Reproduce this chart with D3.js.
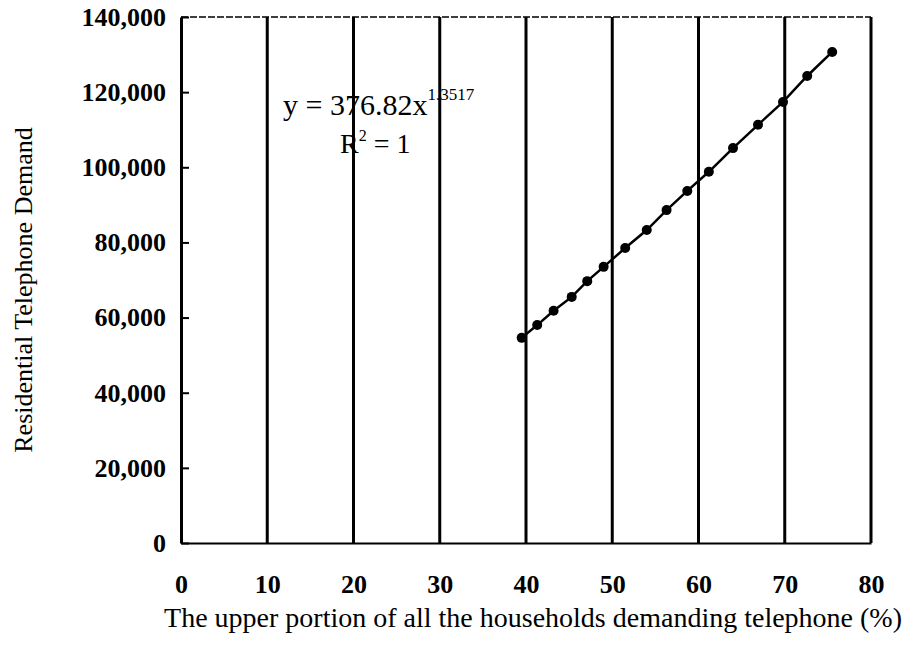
<!DOCTYPE html>
<head>
<meta charset="utf-8">
<style>
body { margin: 0; background: #fff; }
svg { display: block; }
text { font-family: "Liberation Serif", "Times New Roman", serif; fill: #000; }
.tick text { font-size: 26px; font-weight: bold; }
.grid { stroke: #000; stroke-width: 3px; }
</style>
</head>
<body>
<script src="https://cdnjs.cloudflare.com/ajax/libs/d3/7.8.5/d3.min.js"></script>
<script>
  // data
  var share  = [39.5, 41.3, 43.2, 45.3, 47.1, 49.0, 51.5, 54.0, 56.3, 58.7, 61.2, 64.0, 66.9, 69.8, 72.6, 75.5];
  var demand = [54600, 58000, 61800, 65500, 69700, 73500, 78500, 83300, 88600, 93700, 98800, 105100, 111300, 117400, 124300, 130700];
  var xTicks = [0, 10, 20, 30, 40, 50, 60, 70, 80];
  var yTicks = [0, 20000, 40000, 60000, 80000, 100000, 120000, 140000];

  var margin = { top: 17, right: 33, bottom: 111, left: 181 },
      W = 904, H = 654,
      width  = W - margin.left - margin.right,
      height = H - margin.top - margin.bottom;

  var svg = d3.select("body").append("svg")
      .attr("width", W)
      .attr("height", H);

  var g = svg.append("g")
      .attr("transform", "translate(" + margin.left + "," + margin.top + ")");

  var x = d3.scaleLinear().domain([0, 80]).range([0, width]);
  var y = d3.scaleLinear().domain([0, 140000]).range([height, 0]);

  // top border (thin, broken looking in the scan)
  g.append("line")
      .attr("x1", 0).attr("x2", width)
      .attr("y1", 0).attr("y2", 0)
      .style("stroke", "#000")
      .style("stroke-width", 1.5)
      .style("stroke-dasharray", "7,2");

  // vertical grid lines at every x tick
  g.selectAll("line.grid")
    .data(xTicks.slice(1))
    .enter().append("line")
      .classed("grid", true)
      .attr("x1", function(d) { return x(d); })
      .attr("x2", function(d) { return x(d); })
      .attr("y1", 0)
      .attr("y2", height);

  // x axis
  var xAxis = d3.axisBottom(x)
      .tickValues(xTicks)
      .tickSize(0)
      .tickPadding(32);

  var gx = g.append("g")
      .attr("transform", "translate(0," + height + ")")
      .call(xAxis);
  gx.select(".domain").style("stroke", "#000").style("stroke-width", 2);

  // y axis, ticks point inward
  var yAxis = d3.axisLeft(y)
      .tickValues(yTicks)
      .tickSizeInner(-8)
      .tickSizeOuter(0)
      .tickPadding(15)
      .tickFormat(d3.format(","));

  var gy = g.append("g").call(yAxis);
  gy.select(".domain").style("stroke", "#000").style("stroke-width", 3);
  gy.selectAll(".tick line").style("stroke", "#000").style("stroke-width", 2);

  // axis titles
  svg.append("text")
      .attr("x", 902)
      .attr("y", 627)
      .style("text-anchor", "end")
      .style("font-size", "28px")
      .text("The upper portion of all the households demanding telephone (%)");

  svg.append("text")
      .attr("transform", "translate(32,290) rotate(-90)")
      .style("text-anchor", "middle")
      .style("font-size", "26px")
      .text("Residential Telephone Demand");

  // series
  var pts = d3.zip(share, demand);

  var line = d3.line()
      .x(function(d) { return x(d[0]); })
      .y(function(d) { return y(d[1]); });

  g.append("path")
      .attr("d", line(pts))
      .style("fill", "none")
      .style("stroke", "#000")
      .style("stroke-width", 2.5);

  g.selectAll("circle.pt")
    .data(pts)
    .enter().append("circle")
      .attr("class", "pt")
      .attr("cx", function(d) { return x(d[0]); })
      .attr("cy", function(d) { return y(d[1]); })
      .attr("r", 5)
      .style("fill", "#000");

  // trendline equation
  var eq = svg.append("text")
      .attr("x", 283)
      .attr("y", 115)
      .style("font-size", "30px");
  eq.append("tspan").text("y = 376.82x");
  eq.append("tspan")
      .attr("dy", -15)
      .style("font-size", "17px")
      .text("1.3517");

  var r2 = svg.append("text")
      .attr("x", 340)
      .attr("y", 153)
      .style("font-size", "28px");
  r2.append("tspan").text("R");
  r2.append("tspan")
      .attr("dy", -12)
      .style("font-size", "16px")
      .text("2");
  r2.append("tspan")
      .attr("dy", 12)
      .text(" = 1");
</script>
</body>
